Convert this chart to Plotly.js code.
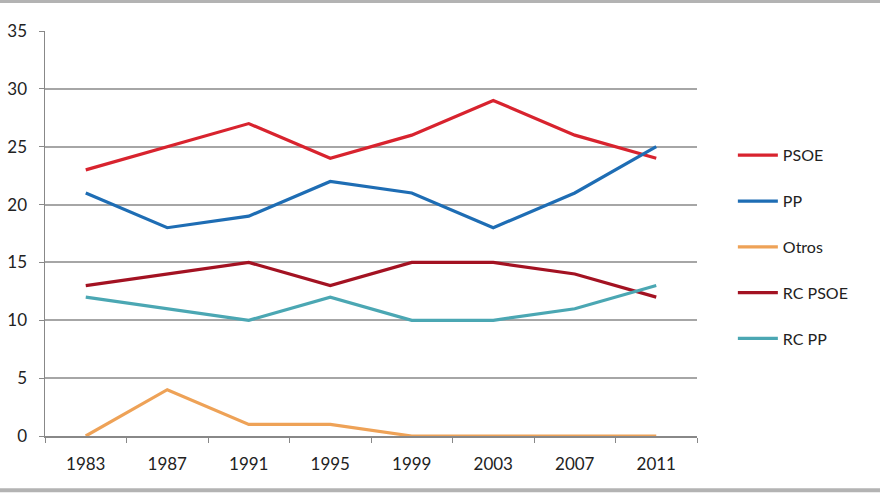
<!DOCTYPE html>
<html>
<head>
<meta charset="utf-8">
<script src="https://cdn.plot.ly/plotly-3.0.1.min.js"></script>
<style>html,body{margin:0;padding:0;background:#fff;}#chart{width:880px;height:495px;}</style>
</head>
<body>
<div id="chart"></div>
<script>
var years = ['1983','1987','1991','1995','1999','2003','2007','2011'];
var psoe   = [23, 25, 27, 24, 26, 29, 26, 24];
var pp     = [21, 18, 19, 22, 21, 18, 21, 25];
var otros  = [0, 4, 1, 1, 0, 0, 0, 0];
var rcPsoe = [13, 14, 15, 13, 15, 15, 14, 12];
var rcPp   = [12, 11, 10, 12, 10, 10, 11, 13];
var seriesNames = ['PSOE', 'PP', 'Otros', 'RC PSOE', 'RC PP'];
var seriesColors = ['#d8232e', '#1e6db4', '#eea257', '#a31222', '#4ba7b3'];
var seriesData = [psoe, pp, otros, rcPsoe, rcPp];

var traces = seriesData.map(function(d, i){
  return {
    x: years, y: d, type: 'scatter', mode: 'lines', name: seriesNames[i],
    legendgroup: 'g' + i,
    line: {color: seriesColors[i], width: 3.2}
  };
});

var font = 'Lato, "Open Sans", sans-serif';
var layout = {
  width: 880, height: 495,
  margin: {l: 45, r: 183, t: 31, b: 59},
  paper_bgcolor: '#fff', plot_bgcolor: '#fff',
  showlegend: true,
  legend: {x: 1.055, y: 0.735, xanchor: 'left', yanchor: 'top', traceorder: 'grouped', tracegroupgap: 22,
           font: {family: font, size: 16, color: '#222'}, itemwidth: 40},
  xaxis: {
    type: 'category', tickson: 'boundaries', ticks: 'outside', ticklen: 5, tickcolor: '#888',
    showline: true, linecolor: '#888', linewidth: 1.5, showgrid: false,
    tickfont: {family: font, size: 17, color: '#222'}, ticklabelstandoff: 12,
    range: [-0.5, 7.5], fixedrange: true
  },
  yaxis: {
    range: [0, 35], dtick: 5, ticks: 'outside', ticklen: 5, tickcolor: '#888',
    showline: true, linecolor: '#888', linewidth: 1.5,
    showgrid: true, gridcolor: '#a6a6a6', gridwidth: 2, zeroline: false,
    tickfont: {family: font, size: 17, color: '#222'}, ticklabelstandoff: 8
  },
  shapes: [
    {type: 'line', xref: 'paper', yref: 'paper', x0: -0.07, x1: 1.3, y0: 1.073, y1: 1.073, line: {color: '#b3b3b3', width: 3}},
    {type: 'line', xref: 'paper', yref: 'paper', x0: -0.07, x1: 1.3, y0: -0.134, y1: -0.134, line: {color: '#b3b3b3', width: 4}}
  ]
};
Plotly.newPlot('chart', traces, layout, {displayModeBar: false, staticPlot: true});
</script>
</body>
</html>
